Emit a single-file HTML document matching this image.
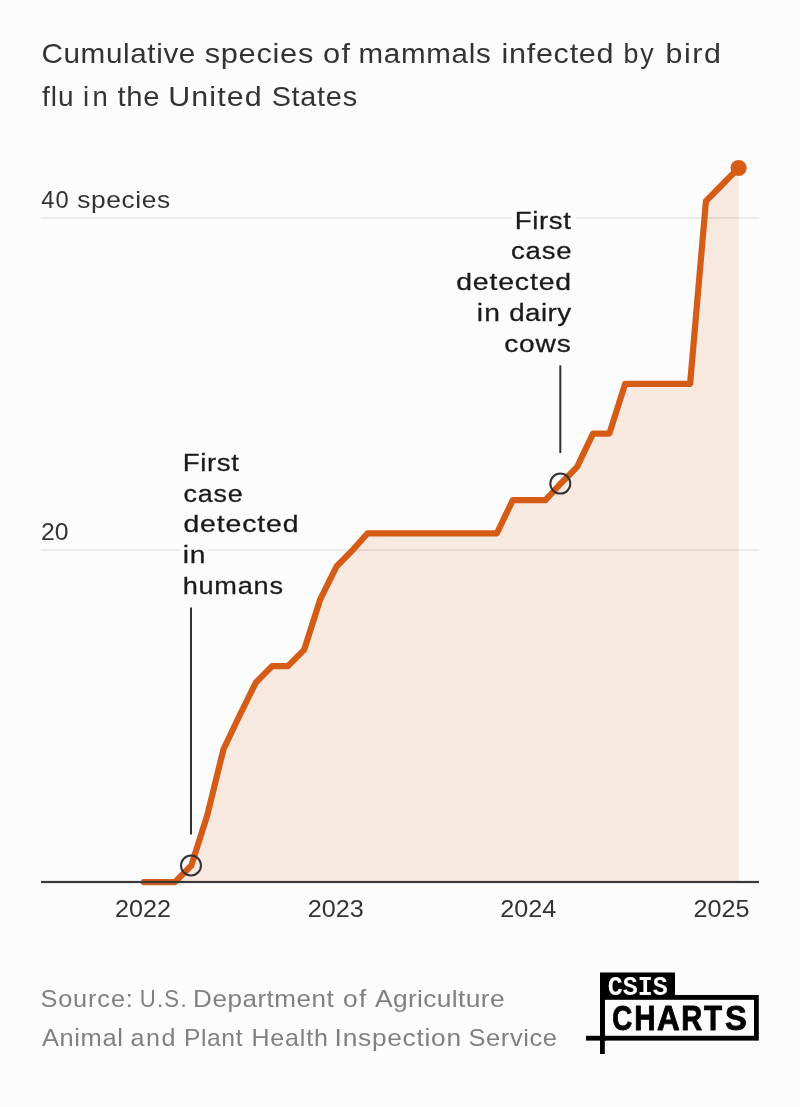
<!DOCTYPE html>
<html lang="en">
<head>
<meta charset="utf-8">
<title>Cumulative species of mammals infected by bird flu in the United States</title>
<style>
html,body{margin:0;padding:0;background:#fcfcfc;}
body{width:800px;height:1107px;overflow:hidden;font-family:"Liberation Sans",sans-serif;}
svg{display:block;position:absolute;left:0;top:0;}
text{font-family:"Liberation Sans",sans-serif;}
.halo{stroke:#fcfcfc;stroke-width:9px;stroke-linejoin:round;}
.mono{font-family:"Liberation Mono",monospace;font-weight:bold;}
.bold{font-weight:bold;}
</style>
</head>
<body>
<svg width="800" height="1107" viewBox="0 0 800 1107">
<rect x="0" y="0" width="800" height="1107" fill="#fcfcfc"/>
<g style="mix-blend-mode:multiply"><rect x="0" y="0" width="1" height="1" fill="#fcfcfc"/></g>

<g id="title">
<text transform="translate(41.4 63) scale(1.06 1)" font-size="28" text-anchor="start" fill="#333333" textLength="145.24" lengthAdjust="spacing">Cumulative</text>
<text transform="translate(204.7 63) scale(1.1 1)" font-size="28" text-anchor="start" fill="#333333" textLength="98.73" lengthAdjust="spacing">species</text>
<text transform="translate(322.95 63) scale(1.098 1)" font-size="28" text-anchor="start" fill="#333333" textLength="24.64" lengthAdjust="spacing">of</text>
<text transform="translate(358.4 63) scale(1.055 1)" font-size="28" text-anchor="start" fill="#333333" textLength="125.5" lengthAdjust="spacing">mammals</text>
<text transform="translate(501.4 63) scale(1.091 1)" font-size="28" text-anchor="start" fill="#333333" textLength="102.84" lengthAdjust="spacing">infected</text>
<text transform="translate(623.4 63) scale(0.958 1)" font-size="28" text-anchor="start" fill="#333333" textLength="31.68" lengthAdjust="spacing">by</text>
<text transform="translate(665.4 63) scale(1.086 1)" font-size="28" text-anchor="start" fill="#333333" textLength="51.1" lengthAdjust="spacing">bird</text>
<text transform="translate(42.0 106) scale(0.999 1)" font-size="28" text-anchor="start" fill="#333333" textLength="31.63" lengthAdjust="spacing">flu</text>
<text transform="translate(82.9 106) scale(0.983 1)" font-size="28" text-anchor="start" fill="#333333" textLength="25.38" lengthAdjust="spacing">in</text>
<text transform="translate(117.5 106) scale(1.044 1)" font-size="28" text-anchor="start" fill="#333333" textLength="40.28" lengthAdjust="spacing">the</text>
<text transform="translate(168.35 106) scale(1.086 1)" font-size="28" text-anchor="start" fill="#333333" textLength="85.87" lengthAdjust="spacing">United</text>
<text transform="translate(271.65 106) scale(1.03 1)" font-size="28" text-anchor="start" fill="#333333" textLength="82.91" lengthAdjust="spacing">States</text>
</g>
<g id="series">
<path d="M143.8,882.1 L160.16,882.1 L174.94,882.1 L191.3,865.49 L207.14,815.66 L223.5,749.22 L239.34,716.0 L255.7,682.78 L272.06,666.17 L287.9,666.17 L304.26,649.56 L320.09,599.73 L336.46,566.51 L352.82,549.9 L367.6,533.29 L383.96,533.29 L399.8,533.29 L416.16,533.29 L431.99,533.29 L448.36,533.29 L464.72,533.29 L480.55,533.29 L496.92,533.29 L512.75,500.07 L529.11,500.07 L545.48,500.07 L560.78,483.46 L577.15,466.85 L592.98,433.63 L609.34,433.63 L625.18,383.8 L641.54,383.8 L657.9,383.8 L673.74,383.8 L690.1,383.8 L705.94,201.09 L722.3,184.48 L738.66,167.87 L738.66,882.1 L143.8,882.1 Z" fill="#f7e8e0"/>
<rect x="41" y="217.2" width="718" height="1.3" fill="#000" fill-opacity="0.1"/>
<rect x="41" y="549.4" width="718" height="1.3" fill="#000" fill-opacity="0.1"/>
<path d="M143.8,882.1 L160.16,882.1 L174.94,882.1 L191.3,865.49 L207.14,815.66 L223.5,749.22 L239.34,716.0 L255.7,682.78 L272.06,666.17 L287.9,666.17 L304.26,649.56 L320.09,599.73 L336.46,566.51 L352.82,549.9 L367.6,533.29 L383.96,533.29 L399.8,533.29 L416.16,533.29 L431.99,533.29 L448.36,533.29 L464.72,533.29 L480.55,533.29 L496.92,533.29 L512.75,500.07 L529.11,500.07 L545.48,500.07 L560.78,483.46 L577.15,466.85 L592.98,433.63 L609.34,433.63 L625.18,383.8 L641.54,383.8 L657.9,383.8 L673.74,383.8 L690.1,383.8 L705.94,201.09 L722.3,184.48 L738.66,167.87" fill="none" stroke="#d55c16" stroke-width="6.2" stroke-linejoin="round" stroke-linecap="round"/>
<rect x="41" y="880.9" width="718" height="2.2" fill="#3a3a3a"/>
<circle cx="738.6" cy="168" r="8.1" fill="#d55c16"/>
</g>
<g id="ylabels">
<text transform="translate(41.25 207.5) scale(0.987 1)" font-size="24" text-anchor="start" fill="#333333" textLength="27.91" lengthAdjust="spacing">40</text>
<text transform="translate(77.2 207.5) scale(1.099 1)" font-size="24" text-anchor="start" fill="#333333" textLength="84.71" lengthAdjust="spacing">species</text>
<text x="41" y="540" font-size="24" text-anchor="start" fill="#333333" textLength="27.5" lengthAdjust="spacingAndGlyphs">20</text>
</g>
<g id="xlabels">
<text x="143" y="916.5" font-size="24" text-anchor="middle" fill="#333333" textLength="56" lengthAdjust="spacingAndGlyphs">2022</text>
<text x="335.7" y="916.5" font-size="24" text-anchor="middle" fill="#333333" textLength="56" lengthAdjust="spacingAndGlyphs">2023</text>
<text x="528.3" y="916.5" font-size="24" text-anchor="middle" fill="#333333" textLength="56" lengthAdjust="spacingAndGlyphs">2024</text>
<text x="721.5" y="916.5" font-size="24" text-anchor="middle" fill="#333333" textLength="56" lengthAdjust="spacingAndGlyphs">2025</text>
</g>
<g id="annotations">
<rect x="190" y="607.5" width="2" height="227" fill="#333333"/>
<circle cx="191" cy="865.5" r="10" fill="none" stroke="#333333" stroke-width="2"/>
<rect x="559.3" y="365.3" width="2" height="87.7" fill="#333333"/>
<circle cx="560.3" cy="483.6" r="10" fill="none" stroke="#333333" stroke-width="2"/>
<rect x="512" y="214" width="64" height="8" fill="#fcfcfc"/>
<rect x="179.5" y="546" width="28.5" height="8" fill="#fcfcfc"/>
<text transform="translate(182.64 471) scale(1.129 1)" font-size="24.5" text-anchor="start" fill="#1a1a1a" textLength="49.92" lengthAdjust="spacing" stroke="#1a1a1a" stroke-width="0.28">First</text>
<text transform="translate(183.44 501.6) scale(1.096 1)" font-size="24.5" text-anchor="start" fill="#1a1a1a" textLength="54.16" lengthAdjust="spacing" stroke="#1a1a1a" stroke-width="0.28">case</text>
<text transform="translate(183.44 532.4) scale(1.16 1)" font-size="24.5" text-anchor="start" fill="#1a1a1a" textLength="99.28" lengthAdjust="spacing" stroke="#1a1a1a" stroke-width="0.28">detected</text>
<text transform="translate(182.64 563) scale(1.15 1)" font-size="24.5" text-anchor="start" fill="#1a1a1a" textLength="19.76" lengthAdjust="spacing" stroke="#1a1a1a" stroke-width="0.28">in</text>
<text transform="translate(182.64 594) scale(1.107 1)" font-size="24.5" text-anchor="start" fill="#1a1a1a" textLength="90.7" lengthAdjust="spacing" stroke="#1a1a1a" stroke-width="0.28">humans</text>
<text transform="translate(514.64 228.6) scale(1.129 1)" font-size="24.5" text-anchor="start" fill="#1a1a1a" textLength="49.92" lengthAdjust="spacing" stroke="#1a1a1a" stroke-width="0.28">First</text>
<text transform="translate(510.96 259.4) scale(1.123 1)" font-size="24.5" text-anchor="start" fill="#1a1a1a" textLength="53.96" lengthAdjust="spacing" stroke="#1a1a1a" stroke-width="0.28">case</text>
<text transform="translate(456.2 290.2) scale(1.16 1)" font-size="24.5" text-anchor="start" fill="#1a1a1a" textLength="99.03" lengthAdjust="spacing" stroke="#1a1a1a" stroke-width="0.28">detected</text>
<text transform="translate(476.64 321) scale(1.15 1)" font-size="24.5" text-anchor="start" fill="#1a1a1a" textLength="20.17" lengthAdjust="spacing" stroke="#1a1a1a" stroke-width="0.28">in</text>
<text transform="translate(509.2 321) scale(1.131 1)" font-size="24.5" text-anchor="start" fill="#1a1a1a" textLength="54.64" lengthAdjust="spacing" stroke="#1a1a1a" stroke-width="0.28">dairy</text>
<text transform="translate(504.2 351.6) scale(1.147 1)" font-size="24.5" text-anchor="start" fill="#1a1a1a" textLength="58.06" lengthAdjust="spacing" stroke="#1a1a1a" stroke-width="0.28">cows</text>
</g>
<g id="footer">
<text transform="translate(40.4 1006.75) scale(1.054 1)" font-size="24" text-anchor="start" fill="#808080" textLength="87.76" lengthAdjust="spacing">Source:</text>
<text transform="translate(139.65 1006.75) scale(0.923 1)" font-size="24" text-anchor="start" fill="#808080" textLength="50.87" lengthAdjust="spacing">U.S.</text>
<text transform="translate(193.1 1006.75) scale(1.086 1)" font-size="24" text-anchor="start" fill="#808080" textLength="129.51" lengthAdjust="spacing">Department</text>
<text transform="translate(342.95 1006.75) scale(1.098 1)" font-size="24" text-anchor="start" fill="#808080" textLength="21.22" lengthAdjust="spacing">of</text>
<text transform="translate(375.0 1006.75) scale(1.097 1)" font-size="24" text-anchor="start" fill="#808080" textLength="118.09" lengthAdjust="spacing">Agriculture</text>
<text transform="translate(42.0 1046) scale(1.064 1)" font-size="24" text-anchor="start" fill="#808080" textLength="75.99" lengthAdjust="spacing">Animal</text>
<text transform="translate(130.45 1046) scale(1.045 1)" font-size="24" text-anchor="start" fill="#808080" textLength="42.97" lengthAdjust="spacing">and</text>
<text transform="translate(183.9 1046) scale(1.026 1)" font-size="24" text-anchor="start" fill="#808080" textLength="57.12" lengthAdjust="spacing">Plant</text>
<text transform="translate(251.4 1046) scale(1.04 1)" font-size="24" text-anchor="start" fill="#808080" textLength="73.51" lengthAdjust="spacing">Health</text>
<text transform="translate(334.6 1046) scale(1.096 1)" font-size="24" text-anchor="start" fill="#808080" textLength="115.42" lengthAdjust="spacing">Inspection</text>
<text transform="translate(468.4 1046) scale(1.062 1)" font-size="24" text-anchor="start" fill="#808080" textLength="83.47" lengthAdjust="spacing">Service</text>
</g>
<g id="logo">
<rect x="600" y="972.5" width="75" height="25" fill="#000"/>
<rect x="602.4" y="997.4" width="154" height="40.8" fill="none" stroke="#000" stroke-width="4.8"/>
<rect x="600" y="995" width="4.8" height="59" fill="#000"/>
<rect x="586" y="1035.8" width="20" height="4.8" fill="#000"/>
<text x="607.8" y="995" font-size="27" text-anchor="start" fill="#fff" textLength="60" lengthAdjust="spacingAndGlyphs" class="mono">CSIS</text>
<text transform="translate(612.20 1030.4) scale(0.779 1)" font-size="35.6" class="bold" fill="#000" stroke="#000" stroke-width="0.9" stroke-linejoin="round">C</text>
<text transform="translate(634.29 1030.4) scale(0.831 1)" font-size="35.6" class="bold" fill="#000" stroke="#000" stroke-width="0.9" stroke-linejoin="round">H</text>
<text transform="translate(657.09 1030.4) scale(0.885 1)" font-size="35.6" class="bold" fill="#000" stroke="#000" stroke-width="0.9" stroke-linejoin="round">A</text>
<text transform="translate(681.32 1030.4) scale(0.815 1)" font-size="35.6" class="bold" fill="#000" stroke="#000" stroke-width="0.9" stroke-linejoin="round">R</text>
<text transform="translate(704.00 1030.4) scale(0.831 1)" font-size="35.6" class="bold" fill="#000" stroke="#000" stroke-width="0.9" stroke-linejoin="round">T</text>
<text transform="translate(725.08 1030.4) scale(0.920 1)" font-size="35.6" class="bold" fill="#000" stroke="#000" stroke-width="0.9" stroke-linejoin="round">S</text>
</g>
</svg>
</body>
</html>
